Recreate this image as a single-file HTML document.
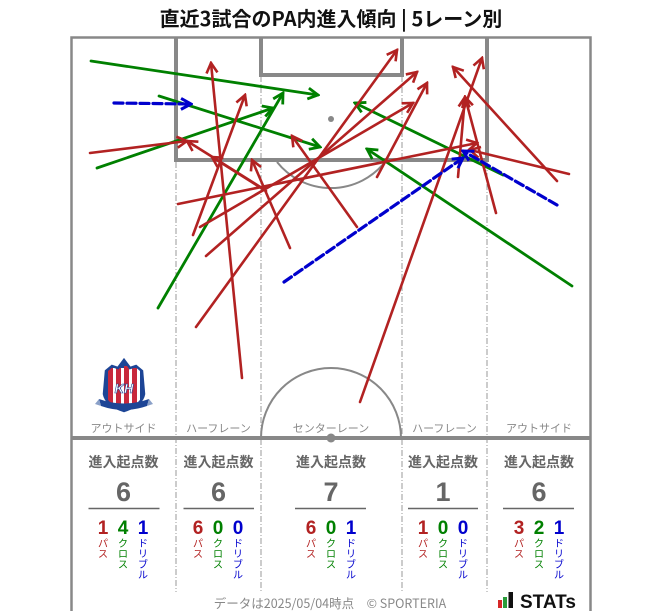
<!DOCTYPE html>
<html><head><meta charset="utf-8">
<style>
html,body{margin:0;padding:0;background:#fff;}
svg{display:block;}
text{font-family:"Liberation Sans","Noto Sans CJK JP",sans-serif;}
.jp{font-family:"Noto Sans CJK JP","Liberation Sans",sans-serif;}
</style></head>
<body>
<svg width="663" height="611" viewBox="0 0 663 611" xmlns="http://www.w3.org/2000/svg">
<defs>
  <marker id="mr" viewBox="-12 -7 14 14" refX="0" refY="0" markerWidth="14" markerHeight="14" orient="auto" markerUnits="userSpaceOnUse">
    <path d="M-10,-5.5 L0,0 L-10,5.5" fill="none" stroke="#b22222" stroke-width="2.6" stroke-linejoin="miter"/>
  </marker>
  <marker id="mg" viewBox="-12 -7 14 14" refX="0" refY="0" markerWidth="14" markerHeight="14" orient="auto" markerUnits="userSpaceOnUse">
    <path d="M-10,-5.5 L0,0 L-10,5.5" fill="none" stroke="#008000" stroke-width="2.8"/>
  </marker>
  <marker id="mb" viewBox="-12 -7 14 14" refX="0" refY="0" markerWidth="14" markerHeight="14" orient="auto" markerUnits="userSpaceOnUse">
    <path d="M-10,-5.5 L0,0 L-10,5.5" fill="none" stroke="#0000cd" stroke-width="3"/>
  </marker>
  <clipPath id="crestclip"><path d="M106,371 L112,366 L118,368 L124,360 L130,368 L136,366 L142,371 L144,394 Q142,405 124,411 Q106,405 104,394 Z"/></clipPath>
</defs>

<!-- title -->
<text x="331" y="26" text-anchor="middle" font-size="20" font-weight="bold" fill="#111" class="jp">直近3試合のPA内進入傾向 | 5レーン別</text>

<!-- lane dividers -->
<g stroke="#999" stroke-width="1" stroke-dasharray="6,2,1,2" fill="none">
  <line x1="176" y1="162" x2="176" y2="592"/>
  <line x1="261" y1="76" x2="261" y2="592"/>
  <line x1="402" y1="76" x2="402" y2="592"/>
  <line x1="487" y1="162" x2="487" y2="592"/>
</g>

<!-- pitch -->
<g fill="none" stroke="#888">
  <path d="M71.5,611 L71.5,37.5 L590.5,37.5 L590.5,611" stroke-width="2.5"/>
  <path d="M176,37 L176,160 L487,160 L487,37" stroke-width="4"/>
  <path d="M261,37 L261,75 L402,75 L402,37" stroke-width="4"/>
  <path d="M277,162 A69,69 0 0 0 385,162" stroke-width="2"/>
  <path d="M261,438 A70,70 0 0 1 401,438" stroke-width="2"/>
  <line x1="71" y1="438" x2="591" y2="438" stroke-width="4"/>
</g>
<circle cx="331" cy="119" r="3" fill="#888"/>
<circle cx="331" cy="438" r="4.5" fill="#888"/>

<!-- lane labels -->
<g font-size="11" fill="#888" text-anchor="middle" class="jp">
  <text x="123.5" y="432">アウトサイド</text>
  <text x="218.5" y="432">ハーフレーン</text>
  <text x="331" y="432">センターレーン</text>
  <text x="444.5" y="432">ハーフレーン</text>
  <text x="539" y="432">アウトサイド</text>
</g>

<!-- crest -->
<g>
  <path d="M106,371 L112,366 L118,368 L124,360 L130,368 L136,366 L142,371 L144,394 Q142,405 124,411 Q106,405 104,394 Z" fill="#1d4596"/>
  <g clip-path="url(#crestclip)">
    <rect x="108" y="368" width="32" height="38" fill="#fff"/>
    <rect x="108" y="368" width="5" height="38" fill="#c8283c"/>
    <rect x="116" y="368" width="5" height="38" fill="#c8283c"/>
    <rect x="124" y="366" width="5" height="40" fill="#c8283c"/>
    <rect x="132" y="368" width="5" height="38" fill="#c8283c"/>
  </g>
  <path d="M106,371 L112,366 L118,368 L124,360 L130,368 L136,366 L142,371 L144,394 Q142,405 124,411 Q106,405 104,394 Z" fill="none" stroke="#1d4596" stroke-width="2.5"/>
  <text x="124" y="393" font-size="13" font-style="italic" font-weight="bold" fill="#fff" stroke="#1d4596" stroke-width="0.6" text-anchor="middle" font-family="Liberation Serif,serif">KH</text>
  <path d="M99,399 Q124,408 149,399 L147,406 Q124,414 101,406 Z" fill="#1d4596"/>
  <path d="M99,399 L95,404 L101,406 Z M149,399 L153,404 L147,406 Z" fill="#8aa0c8"/>
</g>

<!-- green crosses -->
<g stroke="#008000" stroke-width="2.8" fill="none" marker-end="url(#mg)" stroke-linecap="round">
  <line x1="91" y1="61" x2="318" y2="95"/>
  <line x1="159" y1="96" x2="320" y2="147"/>
  <line x1="97" y1="168" x2="273" y2="108"/>
  <line x1="158" y1="308" x2="283" y2="93"/>
  <line x1="572" y1="286" x2="367" y2="149"/>
  <line x1="503" y1="175" x2="355" y2="103"/>
</g>

<!-- red passes -->
<g stroke="#b22222" stroke-width="2.6" fill="none" marker-end="url(#mr)" stroke-linecap="round">
  <line x1="90" y1="153" x2="187" y2="141"/>
  <line x1="178" y1="204" x2="477" y2="143"/>
  <line x1="193" y1="235" x2="245" y2="95"/>
  <line x1="200" y1="227" x2="413" y2="103"/>
  <line x1="206" y1="256" x2="417" y2="72"/>
  <line x1="242" y1="378" x2="211" y2="63"/>
  <line x1="196" y1="327" x2="397" y2="50"/>
  <line x1="265" y1="190" x2="187" y2="141"/>
  <line x1="266" y1="191" x2="212" y2="157"/>
  <line x1="290" y1="248" x2="252" y2="160"/>
  <line x1="357" y1="227" x2="292" y2="136"/>
  <line x1="377" y1="177" x2="427" y2="83"/>
  <line x1="360" y1="402" x2="482" y2="58"/>
  <line x1="458" y1="177" x2="465" y2="97"/>
  <line x1="557" y1="181" x2="453" y2="67"/>
  <line x1="496" y1="213" x2="465" y2="97"/>
  <line x1="569" y1="174" x2="470" y2="150"/>
</g>

<!-- blue dribbles -->
<g stroke="#0000cd" stroke-width="3.2" fill="none" marker-end="url(#mb)" stroke-dasharray="9,4" stroke-linecap="round">
  <line x1="114" y1="103" x2="191" y2="104"/>
  <line x1="284" y1="282" x2="463" y2="158"/>
  <line x1="557" y1="205" x2="463" y2="151"/>
</g>

<!-- stats -->
<g class="jp">
  <g font-size="14" font-weight="bold" fill="#666" text-anchor="middle">
    <text x="123.5" y="467">進入起点数</text>
    <text x="218.5" y="467">進入起点数</text>
    <text x="331" y="467">進入起点数</text>
    <text x="443" y="467">進入起点数</text>
    <text x="539" y="467">進入起点数</text>
  </g>
  <g font-size="27" font-weight="bold" fill="#666" text-anchor="middle">
    <text x="123.5" y="501">6</text>
    <text x="218.5" y="501">6</text>
    <text x="331" y="501">7</text>
    <text x="443" y="501">1</text>
    <text x="539" y="501">6</text>
  </g>
  <g stroke="#666" stroke-width="1.5">
    <line x1="88.5" y1="508.5" x2="159.5" y2="508.5"/>
    <line x1="183.5" y1="508.5" x2="254" y2="508.5"/>
    <line x1="295" y1="508.5" x2="366" y2="508.5"/>
    <line x1="408" y1="508.5" x2="478" y2="508.5"/>
    <line x1="503" y1="508.5" x2="574" y2="508.5"/>
  </g>
  <g font-size="19" font-weight="bold" text-anchor="middle">
    <text x="103" y="534" fill="#b22222">1</text><text x="123" y="534" fill="#008000">4</text><text x="143" y="534" fill="#0000cd">1</text>
    <text x="198" y="534" fill="#b22222">6</text><text x="218" y="534" fill="#008000">0</text><text x="238" y="534" fill="#0000cd">0</text>
    <text x="311" y="534" fill="#b22222">6</text><text x="331" y="534" fill="#008000">0</text><text x="351" y="534" fill="#0000cd">1</text>
    <text x="423" y="534" fill="#b22222">1</text><text x="443" y="534" fill="#008000">0</text><text x="463" y="534" fill="#0000cd">0</text>
    <text x="519" y="534" fill="#b22222">3</text><text x="539" y="534" fill="#008000">2</text><text x="559" y="534" fill="#0000cd">1</text>
  </g>
  <g font-size="10" text-anchor="middle">
    <!-- column 1 -->
    <g fill="#b22222"><text x="103" y="547">パ</text><text x="103" y="557.5">ス</text></g>
    <g fill="#008000"><text x="123" y="547">ク</text><text x="123" y="557.5">ロ</text><text x="123" y="568">ス</text></g>
    <g fill="#0000cd"><text x="143" y="547">ド</text><text x="143" y="557.5">リ</text><text x="143" y="568">ブ</text><text x="143" y="578.5">ル</text></g>
    <!-- column 2 -->
    <g fill="#b22222"><text x="198" y="547">パ</text><text x="198" y="557.5">ス</text></g>
    <g fill="#008000"><text x="218" y="547">ク</text><text x="218" y="557.5">ロ</text><text x="218" y="568">ス</text></g>
    <g fill="#0000cd"><text x="238" y="547">ド</text><text x="238" y="557.5">リ</text><text x="238" y="568">ブ</text><text x="238" y="578.5">ル</text></g>
    <!-- column 3 -->
    <g fill="#b22222"><text x="311" y="547">パ</text><text x="311" y="557.5">ス</text></g>
    <g fill="#008000"><text x="331" y="547">ク</text><text x="331" y="557.5">ロ</text><text x="331" y="568">ス</text></g>
    <g fill="#0000cd"><text x="351" y="547">ド</text><text x="351" y="557.5">リ</text><text x="351" y="568">ブ</text><text x="351" y="578.5">ル</text></g>
    <!-- column 4 -->
    <g fill="#b22222"><text x="423" y="547">パ</text><text x="423" y="557.5">ス</text></g>
    <g fill="#008000"><text x="443" y="547">ク</text><text x="443" y="557.5">ロ</text><text x="443" y="568">ス</text></g>
    <g fill="#0000cd"><text x="463" y="547">ド</text><text x="463" y="557.5">リ</text><text x="463" y="568">ブ</text><text x="463" y="578.5">ル</text></g>
    <!-- column 5 -->
    <g fill="#b22222"><text x="519" y="547">パ</text><text x="519" y="557.5">ス</text></g>
    <g fill="#008000"><text x="539" y="547">ク</text><text x="539" y="557.5">ロ</text><text x="539" y="568">ス</text></g>
    <g fill="#0000cd"><text x="559" y="547">ド</text><text x="559" y="557.5">リ</text><text x="559" y="568">ブ</text><text x="559" y="578.5">ル</text></g>
  </g>
</g>

<!-- footer -->
<rect x="200" y="594" width="262" height="17" fill="#fff"/>
<text x="330" y="608" text-anchor="middle" font-size="12.5" fill="#888" class="jp">データは2025/05/04時点　© SPORTERIA</text>
<rect x="492" y="588" width="96" height="23" fill="#fff"/>
<rect x="498" y="600" width="4" height="8" fill="#d62828"/>
<rect x="503" y="597" width="4" height="11" fill="#2a9d3a"/>
<rect x="508.5" y="592" width="4.5" height="16" fill="#111"/>
<text x="520" y="608" font-size="19" font-weight="bold" fill="#111" font-family="Liberation Sans,sans-serif">STATs</text>
</svg>
</body></html>
